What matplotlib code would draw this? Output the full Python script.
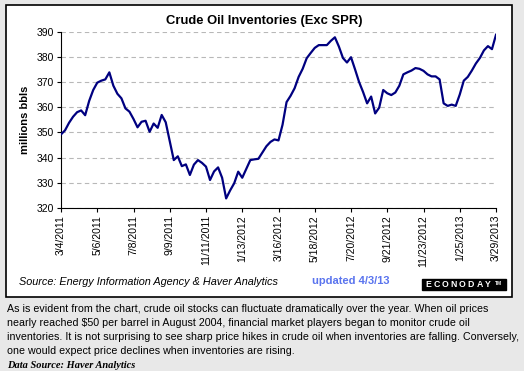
import numpy as np
import pandas as pd
import matplotlib
matplotlib.use('agg')
import matplotlib.pyplot as plt
from matplotlib.patches import Rectangle

plt.rcParams['font.family'] = ['Liberation Sans', 'DejaVu Sans']

# Weekly crude oil inventories, excluding SPR (millions bbls).
dates = pd.date_range('2011-03-04', '2013-03-29', freq='W-FRI')
inventories = [
    349.2, 350.8, 353.8, 356.2, 358.0, 358.7, 356.8, 362.5, 366.8, 369.7,
    370.5, 371.0, 373.8, 368.5, 365.3, 363.5, 359.5, 358.2, 355.3, 352.0,
    354.2, 354.6, 350.2, 353.5, 351.8, 356.9, 354.0, 346.5, 339.0, 340.5,
    336.6, 337.3, 333.1, 337.2, 339.0, 337.9, 336.4, 331.1, 334.5, 336.1,
    332.0, 323.8, 327.0, 329.8, 334.4, 332.0, 335.5, 339.0, 339.3, 339.5,
    342.0, 344.5, 346.2, 347.2, 346.8, 353.0, 362.0, 364.5, 367.5, 372.0,
    375.2, 379.4, 381.5, 383.5, 384.6, 384.6, 384.6, 386.3, 387.7, 384.0,
    379.5, 377.7, 379.8, 375.0, 370.0, 366.0, 361.5, 364.2, 357.5, 359.8,
    366.8, 365.5, 364.8, 365.8, 368.5, 373.0, 373.8, 374.5, 375.5, 375.2,
    374.4, 373.0, 372.2, 372.2, 371.0, 361.5, 360.5, 361.0, 360.5, 365.0,
    370.5, 372.0, 374.5, 377.3, 379.5, 382.5, 384.2, 383.0, 388.7,
]
y_ticks = [320, 330, 340, 350, 360, 370, 380, 390]
tick_dates = dates[::9]
tick_labels = [f'{d.month}/{d.day}/{d.year}' for d in tick_dates]

W, H = 524, 371
fig = plt.figure(figsize=(W / 100, H / 100), dpi=100)
fig.patch.set_facecolor('#e8e8e8')

# White chart panel with a black frame (drawn behind the axes).
fig.patches.append(Rectangle((6 / W, 1 - 297 / H), 506 / W, 292 / H,
                             transform=fig.transFigure, facecolor='white',
                             edgecolor='black', linewidth=1.2, zorder=-5))

ax = fig.add_axes([61 / W, 1 - 208 / H, 435 / W, 176.5 / H])
ax.set_zorder(2)
ax.set_facecolor('white')
ax.plot(dates, inventories, color='#000080', linewidth=1.6, zorder=3)

ax.set_xlim(dates[0], dates[-1])
ax.set_ylim(320, 390)
ax.set_yticks(y_ticks)
ax.set_yticklabels([str(v) for v in y_ticks], fontsize=7.5)
ax.set_xticks(tick_dates)
ax.set_xticklabels(tick_labels, rotation=90, fontsize=7.5)
ax.tick_params(axis='both', direction='out', length=3, width=0.8, pad=2)
ax.grid(axis='y', color='#b8b8b8', linestyle=(0, (4, 3)), linewidth=0.8)
for side in ['top', 'right']:
    ax.spines[side].set_visible(False)
for side in ['left', 'bottom']:
    ax.spines[side].set_linewidth(0.8)

ax.set_ylabel('millions bbls', fontsize=8, fontweight='bold', labelpad=5)

fig.text(264 / W, 1 - 21 / H, 'Crude Oil Inventories (Exc SPR)',
         ha='center', va='center', fontsize=9.4, fontweight='bold')

fig.text(19 / W, 1 - 282 / H,
         'Source: Energy Information Agency & Haver Analytics',
         ha='left', va='center', fontsize=7.8, style='italic')
fig.text(312 / W, 1 - 281 / H, 'updated 4/3/13', ha='left', va='center',
         fontsize=8, fontweight='bold', color='#5a74ee')

# Econoday logo: black box with widely spaced white letters
fig.patches.append(Rectangle((422 / W, 1 - 290 / H), 84 / W, 11 / H,
                             transform=fig.transFigure, facecolor='black',
                             edgecolor='black', zorder=3))
for i, ch in enumerate('ECONODAY'):
    fig.text((428 + i * 8.6) / W, 1 - 284.5 / H, ch, ha='center', va='center',
             fontsize=6.3, fontweight='bold', color='white', zorder=4)
fig.text(499 / W, 1 - 283.5 / H, 'TM', ha='center', va='center',
         fontsize=3.5, fontweight='bold', color='white', zorder=4)

para = ('As is evident from the chart, crude oil stocks can fluctuate dramatically over the year. When oil prices\n'
        'nearly reached $50 per barrel in August 2004, financial market players began to monitor crude oil\n'
        'inventories. It is not surprising to see sharp price hikes in crude oil when inventories are falling. Conversely,\n'
        'one would expect price declines when inventories are rising.')
fig.text(7 / W, 1 - 304 / H, para, ha='left', va='top', fontsize=7.65,
         linespacing=1.5)
fig.text(7 / W, 1 - 365 / H, 'Data Source: Haver Analytics', ha='left',
         va='center', fontsize=7.5, style='italic', fontweight='bold',
         family='Liberation Serif')

plt.savefig('out.png', dpi=100, facecolor=fig.get_facecolor())
